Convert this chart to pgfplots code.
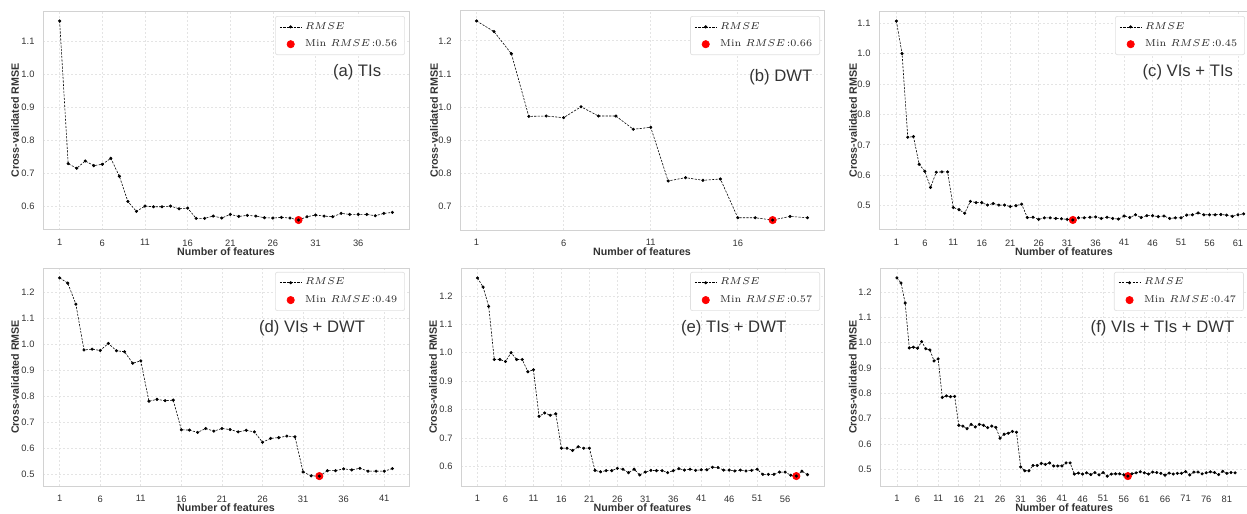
\documentclass[border=0pt]{standalone}
\usepackage{fontspec}
\setsansfont{Liberation Sans}
\usepackage{pgfplots}
\pgfplotsset{compat=1.18}

\definecolor{txt}{HTML}{333333}
\definecolor{spine}{HTML}{D2D2D2}
\definecolor{grd}{HTML}{E4E4E4}

\pgfplotsset{
  rmsebase/.style={
    scale only axis, height=131.4pt,
    axis line style={spine, line width=0.6pt},
    grid=major, grid style={grd, line width=0.4pt, dash pattern=on 1.2pt off 1.2pt},
    major tick length=0pt,
    tick label style={font=\sffamily\fontsize{5.6}{6.5}\selectfont, text=txt},
    /pgf/number format/assume math mode=true,
    yticklabel style={xshift=-1.6pt, /pgf/number format/.cd, fixed, fixed zerofill, precision=1},
    xticklabel style={yshift=-2.2pt},
    xlabel={Number of features},
    ylabel={Cross-validated RMSE},
    label style={font=\sffamily\bfseries\fontsize{6.4}{7.5}\selectfont, text=txt},
    legend cell align=left,
    legend style={draw=black!12, rounded corners=1.2pt, fill=white,
      font=\fontsize{6}{7}\selectfont, text=black!85, anchor=north east,
      inner xsep=2.5pt, inner ysep=1.5pt, row sep=0.8pt},
  },
  rmseline/.style={black, line width=0.35pt, dash pattern=on 1.3pt off 0.8pt,
    mark=*, mark size=0.75pt, mark options={solid}},
  minpt/.style={only marks, mark=*, mark size=2.2pt, red},
  legimg/.style={legend image code/.code={%
    \draw[mark repeat=2, mark phase=2, ##1] plot coordinates {(0pt,0pt)(6.5pt,0pt)(13pt,0pt)};}},
}

\begin{document}
\begin{tikzpicture}
\useasboundingbox (0,0) rectangle (748.2pt,-307.8pt);

% (a) TIs
\begin{axis}[rmsebase, at={(25.8pt,-6.6pt)}, anchor=north west, width=219.6pt,
  xmin=-0.95, xmax=41.95, ymin=0.53, ymax=1.19,
  xtick={1,6,...,36}, ytick={0.6,0.7,...,1.15},
  xlabel style={at={(axis description cs:0.5,-0.1)}, anchor=center},
  ylabel style={at={(axis description cs:-0.0765,0.5)}, anchor=center},
  legend style={at={(0.989,0.977)}}]
\addplot[minpt, forget plot] coordinates {(29,0.56)};
\addplot[rmseline, legimg] coordinates {
(1,1.16)(2,0.73)(3,0.716)(4,0.738)(5,0.724)(6,0.728)(7,0.746)(8,0.692)(9,0.616)(10,0.586)
(11,0.602)(12,0.600)(13,0.600)(14,0.602)(15,0.594)(16,0.596)(17,0.565)(18,0.565)(19,0.572)(20,0.566)
(21,0.577)(22,0.571)(23,0.574)(24,0.572)(25,0.567)(26,0.566)(27,0.568)(28,0.566)(29,0.56)(30,0.570)
(31,0.575)(32,0.572)(33,0.570)(34,0.580)(35,0.577)(36,0.577)(37,0.577)(38,0.573)(39,0.580)(40,0.583)};
\addlegendentry{$RMSE$}
\addlegendimage{minpt, legimg}
\addlegendentry{Min $RMSE$\,:0.56}
\node[anchor=east, font=\sffamily\fontsize{10}{12}\selectfont, text=txt] at (rel axis cs:0.94,0.721) {(a) TIs};
\end{axis}

% (b) DWT
\begin{axis}[rmsebase, at={(276pt,-6.6pt)}, anchor=north west, width=218.4pt,
  xmin=0.05, xmax=20.95, ymin=0.629, ymax=1.29,
  xtick={1,6,...,16}, ytick={0.7,0.8,...,1.25},
  xlabel style={at={(axis description cs:0.5,-0.1)}, anchor=center},
  ylabel style={at={(axis description cs:-0.071,0.5)}, anchor=center},
  legend style={at={(0.989,0.977)}}]
\addplot[minpt, forget plot] coordinates {(18,0.659)};
\addplot[rmseline, legimg] coordinates {
(1,1.26)(2,1.228)(3,1.161)(4,0.972)(5,0.973)(6,0.968)(7,1.001)(8,0.973)(9,0.973)(10,0.933)
(11,0.939)(12,0.777)(13,0.787)(14,0.779)(15,0.783)(16,0.666)(17,0.666)(18,0.659)(19,0.670)(20,0.666)};
\addlegendentry{$RMSE$}
\addlegendimage{minpt, legimg}
\addlegendentry{Min $RMSE$\,:0.66}
\node[anchor=east, font=\sffamily\fontsize{10}{12}\selectfont, text=txt] at (rel axis cs:0.984,0.699) {(b) DWT};
\end{axis}

% (c) VIs + TIs
\begin{axis}[rmsebase, at={(527.4pt,-6.6pt)}, anchor=north west, width=229.2pt,
  xmin=-2.05, xmax=65.05, ymin=0.42, ymax=1.14,
  xtick={1,6,...,61}, ytick={0.5,0.6,...,1.15},
  xlabel style={at={(axis description cs:0.484,-0.1)}, anchor=center},
  ylabel style={at={(axis description cs:-0.068,0.5)}, anchor=center},
  legend style={at={(0.958,0.977)}}]
\addplot[minpt, forget plot] coordinates {(32,0.453)};
\addplot[rmseline, legimg] coordinates {
(1,1.107)(2,1.0)(3,0.725)(4,0.727)(5,0.636)(6,0.613)(7,0.560)(8,0.610)(9,0.611)(10,0.611)
(11,0.494)(12,0.487)(13,0.475)(14,0.514)(15,0.510)(16,0.510)(17,0.502)(18,0.507)(19,0.502)(20,0.502)
(21,0.497)(22,0.500)(23,0.505)(24,0.461)(25,0.462)(26,0.455)(27,0.460)(28,0.460)(29,0.458)(30,0.457)
(31,0.455)(32,0.453)(33,0.460)(34,0.460)(35,0.462)(36,0.463)(37,0.458)(38,0.462)(39,0.458)(40,0.456)
(41,0.466)(42,0.461)(43,0.470)(44,0.461)(45,0.467)(46,0.467)(47,0.464)(48,0.466)(49,0.458)(50,0.460)
(51,0.460)(52,0.469)(53,0.470)(54,0.476)(55,0.470)(56,0.470)(57,0.470)(58,0.471)(59,0.469)(60,0.465)
(61,0.470)(62,0.473)};
\addlegendentry{$RMSE$}
\addlegendimage{minpt, legimg}
\addlegendentry{Min $RMSE$\,:0.45}
\node[anchor=east, font=\sffamily\fontsize{10}{12}\selectfont, text=txt] at (rel axis cs:0.942,0.721) {(c) VIs + TIs};
\end{axis}

% (d) VIs + DWT
\begin{axis}[rmsebase, at={(25.8pt,-160.8pt)}, anchor=north west, width=219.6pt, height=130.8pt,
  xmin=-1.05, xmax=44.05, ymin=0.456, ymax=1.294,
  xtick={1,6,...,41}, ytick={0.5,0.6,...,1.25},
  xlabel style={at={(axis description cs:0.5,-0.1)}, anchor=center},
  ylabel style={at={(axis description cs:-0.0765,0.5)}, anchor=center},
  legend style={at={(0.989,0.982)}}]
\addplot[minpt, forget plot] coordinates {(33,0.494)};
\addplot[rmseline, legimg] coordinates {
(1,1.256)(2,1.236)(3,1.155)(4,0.979)(5,0.982)(6,0.977)(7,1.004)(8,0.976)(9,0.972)(10,0.928)
(11,0.937)(12,0.782)(13,0.789)(14,0.784)(15,0.786)(16,0.672)(17,0.671)(18,0.662)(19,0.677)(20,0.667)
(21,0.677)(22,0.673)(23,0.664)(24,0.670)(25,0.664)(26,0.624)(27,0.639)(28,0.642)(29,0.648)(30,0.645)
(31,0.510)(32,0.495)(33,0.494)(34,0.515)(35,0.515)(36,0.522)(37,0.518)(38,0.524)(39,0.513)(40,0.513)
(41,0.513)(42,0.523)};
\addlegendentry{$RMSE$}
\addlegendimage{minpt, legimg}
\addlegendentry{Min $RMSE$\,:0.49}
\node[anchor=east, font=\sffamily\fontsize{10}{12}\selectfont, text=txt] at (rel axis cs:0.896,0.725) {(d) VIs + DWT};
\end{axis}

% (e) TIs + DWT
\begin{axis}[rmsebase, at={(276.6pt,-160.8pt)}, anchor=north west, width=217.8pt, height=130.8pt,
  xmin=-1.95, xmax=62.95, ymin=0.531, ymax=1.298,
  xtick={1,6,...,56}, ytick={0.6,0.7,...,1.25},
  xlabel style={at={(axis description cs:0.5,-0.1)}, anchor=center},
  ylabel style={at={(axis description cs:-0.077,0.5)}, anchor=center},
  legend style={at={(0.989,0.982)}}]
\addplot[minpt, forget plot] coordinates {(58,0.566)};
\addplot[rmseline, legimg] coordinates {
(1,1.263)(2,1.231)(3,1.163)(4,0.976)(5,0.976)(6,0.969)(7,1.000)(8,0.976)(9,0.976)(10,0.933)
(11,0.940)(12,0.776)(13,0.788)(14,0.780)(15,0.785)(16,0.664)(17,0.664)(18,0.656)(19,0.669)(20,0.664)
(21,0.664)(22,0.586)(23,0.581)(24,0.585)(25,0.585)(26,0.593)(27,0.590)(28,0.578)(29,0.590)(30,0.570)
(31,0.580)(32,0.586)(33,0.585)(34,0.585)(35,0.578)(36,0.585)(37,0.592)(38,0.587)(39,0.590)(40,0.586)
(41,0.588)(42,0.588)(43,0.597)(44,0.596)(45,0.587)(46,0.587)(47,0.584)(48,0.587)(49,0.584)(50,0.586)
(51,0.590)(52,0.572)(53,0.572)(54,0.572)(55,0.580)(56,0.580)(57,0.569)(58,0.566)(59,0.583)(60,0.571)};
\addlegendentry{$RMSE$}
\addlegendimage{minpt, legimg}
\addlegendentry{Min $RMSE$\,:0.57}
\node[anchor=east, font=\sffamily\fontsize{10}{12}\selectfont, text=txt] at (rel axis cs:0.912,0.725) {(e) TIs + DWT};
\end{axis}

% (f) VIs + TIs + DWT
\begin{axis}[rmsebase, at={(528pt,-160.8pt)}, anchor=north west, width=223.2pt, height=130.8pt,
  xmin=-3.1, xmax=87.1, ymin=0.435, ymax=1.294,
  xtick={1,6,...,81}, ytick={0.5,0.6,...,1.25},
  xlabel style={at={(axis description cs:0.495,-0.1)}, anchor=center},
  ylabel style={at={(axis description cs:-0.073,0.5)}, anchor=center},
  legend style={at={(0.978,0.982)}}]
\addplot[minpt, forget plot] coordinates {(57,0.474)};
\addplot[rmseline, legimg] coordinates {
(1,1.255)(2,1.235)(3,1.156)(4,0.979)(5,0.982)(6,0.978)(7,1.004)(8,0.976)(9,0.971)(10,0.928)
(11,0.936)(12,0.784)(13,0.790)(14,0.787)(15,0.788)(16,0.674)(17,0.671)(18,0.661)(19,0.678)(20,0.668)
(21,0.678)(22,0.674)(23,0.665)(24,0.671)(25,0.666)(26,0.623)(27,0.639)(28,0.643)(29,0.650)(30,0.647)
(31,0.510)(32,0.495)(33,0.495)(34,0.516)(35,0.516)(36,0.524)(37,0.520)(38,0.526)(39,0.514)(40,0.514)
(41,0.514)(42,0.526)(43,0.526)(44,0.482)(45,0.486)(46,0.482)(47,0.487)(48,0.480)(49,0.488)(50,0.479)
(51,0.488)(52,0.474)(53,0.482)(54,0.483)(55,0.483)(56,0.479)(57,0.474)(58,0.483)(59,0.487)(60,0.491)
(61,0.487)(62,0.482)(63,0.490)(64,0.488)(65,0.485)(66,0.478)(67,0.486)(68,0.482)(69,0.485)(70,0.485)
(71,0.492)(72,0.479)(73,0.490)(74,0.490)(75,0.483)(76,0.487)(77,0.491)(78,0.488)(79,0.480)(80,0.493)
(81,0.485)(82,0.488)(83,0.487)};
\addlegendentry{$RMSE$}
\addlegendimage{minpt, legimg}
\addlegendentry{Min $RMSE$\,:0.47}
\node[anchor=east, font=\sffamily\fontsize{10}{12}\selectfont, text=txt] at (rel axis cs:0.968,0.725) {(f) VIs + TIs + DWT};
\end{axis}
\end{tikzpicture}
\end{document}
